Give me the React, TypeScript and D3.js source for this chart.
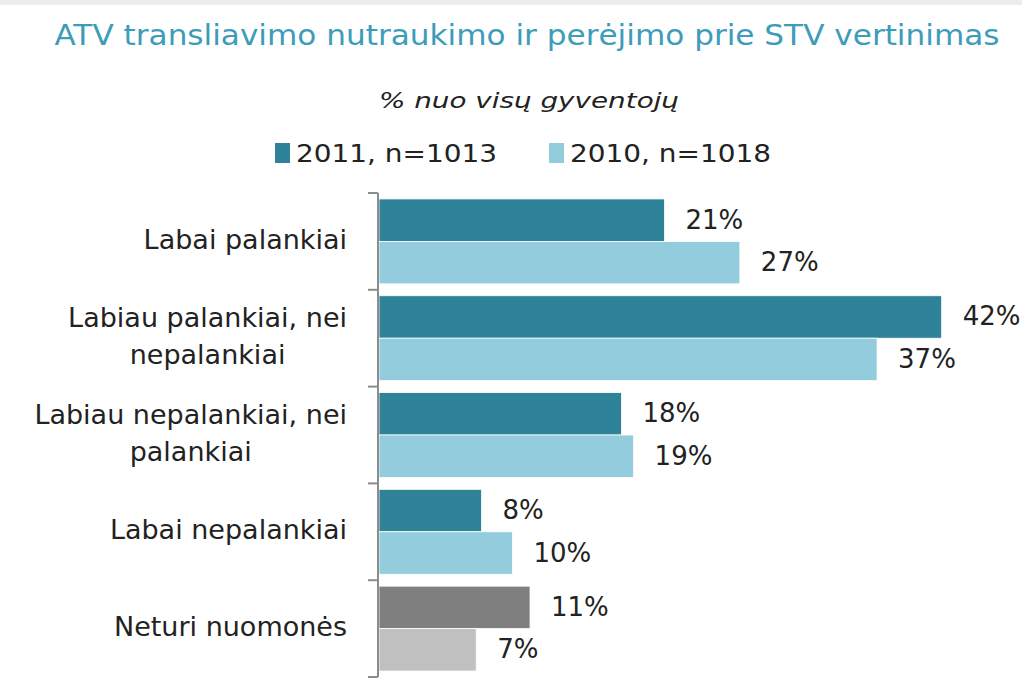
import { useEffect, useRef } from "react";
import * as d3 from "d3";

const categories = [
  ["Labai palankiai"],
  ["Labiau palankiai, nei", "nepalankiai"],
  ["Labiau nepalankiai, nei", "palankiai"],
  ["Labai nepalankiai"],
  ["Neturi nuomonės"],
];
const seriesNames = ["2011, n=1013", "2010, n=1018"];
const values2011 = [21.3, 41.9, 18.1, 7.7, 11.3];
const values2010 = [26.9, 37.1, 19.0, 10.0, 7.3];
const labels2011 = ["21%", "42%", "18%", "8%", "11%"];
const labels2010 = ["27%", "37%", "19%", "10%", "7%"];

const colors2011 = ["#2f8399", "#2f8399", "#2f8399", "#2f8399", "#7f7f7f"];
const colors2010 = ["#93cddd", "#93cddd", "#93cddd", "#93cddd", "#c0c0c0"];

const FONT = "'DejaVu Sans', Verdana, sans-serif";

export default function App() {
  const svgRef = useRef<SVGSVGElement | null>(null);

  useEffect(() => {
    if (!svgRef.current) return;
    const svg = d3.select(svgRef.current);
    svg.selectAll("*").remove();

    const width = 1022;
    const height = 687;
    const axisX = 378;
    const top = 193;
    const bottom = 677;

    svg.append("rect").attr("width", width).attr("height", height).attr("fill", "#fff");
    svg.append("rect").attr("width", width).attr("height", 5).attr("fill", "#ececec");

    // title block
    svg
      .append("text")
      .attr("x", 527)
      .attr("y", 45)
      .attr("text-anchor", "middle")
      .attr("fill", "#3c9cba")
      .style("font-family", FONT)
      .style("font-size", "28px")
      .attr("textLength", 945)
      .attr("lengthAdjust", "spacingAndGlyphs")
      .text("ATV transliavimo nutraukimo ir perėjimo prie STV vertinimas");

    svg
      .append("text")
      .attr("x", 529)
      .attr("y", 108)
      .attr("text-anchor", "middle")
      .attr("fill", "#222")
      .style("font-family", FONT)
      .style("font-size", "22px")
      .style("font-style", "italic")
      .attr("textLength", 300)
      .attr("lengthAdjust", "spacingAndGlyphs")
      .text("% nuo visų gyventojų");

    // legend
    const legendX = [275, 549];
    const legendColors = ["#2f8399", "#93cddd"];
    seriesNames.forEach((name, i) => {
      svg
        .append("rect")
        .attr("x", legendX[i])
        .attr("y", 143)
        .attr("width", 15)
        .attr("height", 20)
        .attr("fill", legendColors[i]);
      svg
        .append("text")
        .attr("x", legendX[i] + 21)
        .attr("y", 162)
        .attr("fill", "#222")
        .style("font-family", FONT)
        .style("font-size", "24px")
        .attr("textLength", 201)
        .attr("lengthAdjust", "spacingAndGlyphs")
        .text(name);
    });

    const idx = d3.range(categories.length).map(String);
    const y = d3.scaleBand<string>().domain(idx).range([top, bottom]).padding(0);
    const inner = d3
      .scaleBand<string>()
      .domain(["0", "1"])
      .range([0, y.bandwidth()])
      .paddingInner(0)
      .paddingOuter(0.14);
    const x = d3.scaleLinear().domain([0, 42]).range([axisX, 943]);

    const rows = [
      { vals: values2011, labels: labels2011, colors: colors2011 },
      { vals: values2010, labels: labels2010, colors: colors2010 },
    ];

    rows.forEach((row, s) => {
      const g = svg.append("g");
      g.selectAll("rect")
        .data(row.vals)
        .enter()
        .append("rect")
        .attr("x", x(0) + 1)
        .attr("y", (_, i) => (y(String(i)) ?? 0) + (inner(String(s)) ?? 0))
        .attr("width", (d) => x(d) - x(0) - 1)
        .attr("height", inner.bandwidth())
        .attr("fill", (_, i) => row.colors[i])
        .attr("stroke", "#fff")
        .attr("stroke-width", 0.8);

      g.selectAll("text")
        .data(row.vals)
        .enter()
        .append("text")
        .attr("x", (d) => x(d) + 21)
        .attr("y", (_, i) => (y(String(i)) ?? 0) + (inner(String(s)) ?? 0) + inner.bandwidth() / 2 + 1)
        .attr("dominant-baseline", "middle")
        .attr("fill", "#222")
        .style("font-family", FONT)
        .style("font-size", "26px")
        .text((_, i) => row.labels[i]);
    });

    // axis
    const axisG = svg.append("g").attr("stroke", "#8c8c8c").attr("stroke-width", 2);
    axisG.append("line").attr("x1", axisX).attr("x2", axisX).attr("y1", top).attr("y2", bottom);
    d3.range(categories.length + 1).forEach((i) => {
      const ty = top + i * y.step();
      axisG.append("line").attr("x1", axisX - 10).attr("x2", axisX).attr("y1", ty).attr("y2", ty);
    });

    // category labels: block right aligned, lines centered within block
    categories.forEach((lines, i) => {
      const cy = (y(String(i)) ?? 0) + y.bandwidth() / 2;
      const lineH = 37;
      const t = svg
        .append("text")
        .attr("fill", "#222")
        .style("font-family", FONT)
        .style("font-size", "27px");
      const spans = lines.map((line, j) =>
        t
          .append("tspan")
          .attr("y", cy + (j - (lines.length - 1) / 2) * lineH)
          .attr("dominant-baseline", "middle")
          .text(line)
      );
      const widths = spans.map((sp) => (sp.node() as SVGTSpanElement).getComputedTextLength());
      const maxW = Math.max(...widths);
      const center = 347 - maxW / 2;
      spans.forEach((sp) => sp.attr("x", center).attr("text-anchor", "middle"));
    });
  }, []);

  return (
    <svg
      ref={svgRef}
      width={1022}
      height={687}
      style={{ position: "absolute", left: 0, top: 0, display: "block" }}
    />
  );
}
